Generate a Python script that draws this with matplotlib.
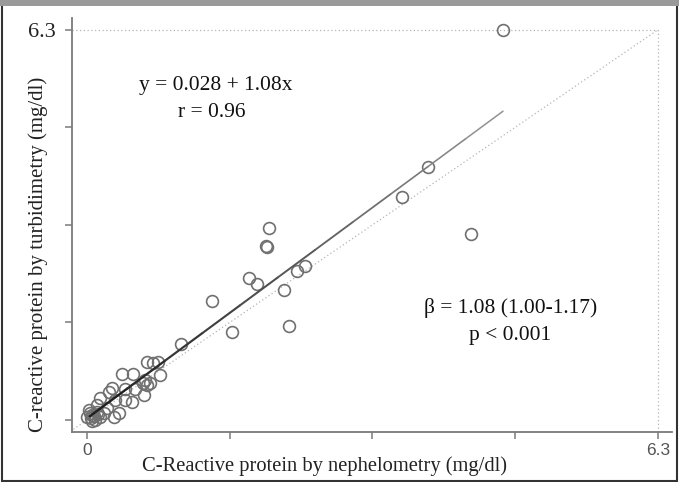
import matplotlib
matplotlib.use("Agg")
import matplotlib.pyplot as plt
import numpy as np
from matplotlib.patches import Rectangle

# Data (mg/dl)
nephelometry = [4.59, 3.76, 3.47, 4.24, 2.01, 1.99, 1.98, 1.79, 1.88, 2.32, 2.41, 2.17,
                2.23, 1.38, 1.60, 1.04, 0.66, 0.73, 0.78, 0.39, 0.51, 0.81, 0.64, 0.70,
                0.62, 0.66, 0.28, 0.24, 0.42, 0.53, 0.63, 0.14, 0.31, 0.42, 0.50, 0.11,
                0.22, 0.35, 0.30, 0.19, 0.02, 0.06, 0.14, 0.00, 0.09, 0.06, 0.03, 0.11,
                0.04, 0.08, 0.12]
turbidimetry = [6.30, 4.09, 3.60, 3.00, 3.10, 2.79, 2.81, 2.29, 2.20, 2.41, 2.49, 2.10,
                1.52, 1.92, 1.42, 1.23, 0.94, 0.92, 0.94, 0.74, 0.74, 0.73, 0.65, 0.60,
                0.60, 0.57, 0.52, 0.45, 0.50, 0.50, 0.40, 0.36, 0.32, 0.32, 0.29, 0.24,
                0.19, 0.11, 0.05, 0.11, 0.16, 0.08, 0.05, 0.05, 0.00, -0.02, 0.11, 0.13,
                0.03, 0.06, 0.10]
intercept = 0.028
slope = 1.08
fit_range = [0.03, 4.59]
axis_max = 6.3
x_tick_labels = ["0", "", "", "", "6.3"]
y_tick_labels = ["", "", "", "", "6.3"]

fig = plt.figure(figsize=(6.79, 4.82), dpi=100)
ax = fig.add_axes([0.106, 0.1037, 0.884, 0.859])
ax.set_xlim(-0.166, 6.457)
ax.set_ylim(-0.194, 6.49)

ticks = np.linspace(0, axis_max, 5)

# reference lines
ax.plot([-0.15, axis_max], [-0.15, axis_max], color="#b5b5b5", lw=0.9, ls=(0, (1, 2)))
ax.plot([-0.166, axis_max], [axis_max, axis_max], color="#b5b5b5", lw=0.9, ls=(0, (1, 2)))
ax.plot([axis_max, axis_max], [-0.194, axis_max], color="#b5b5b5", lw=0.9, ls=(0, (1, 2)))

# points
ax.plot(nephelometry, turbidimetry, ls="none", marker="o", ms=8.5,
        mfc="none", mec="#707070", mew=1.2)

# regression line with fading tone
xs = np.linspace(fit_range[0], fit_range[1], 12)
ys = intercept + slope * xs
for i in range(len(xs) - 1):
    t = i / (len(xs) - 2)
    g = 0.12 + 0.45 * t
    ax.plot(xs[i:i + 2], ys[i:i + 2], color=(g, g, g), lw=1.7 - 0.6 * t,
            solid_capstyle="round")

ax.spines["top"].set_visible(False)
ax.spines["right"].set_visible(False)
for s in ("left", "bottom"):
    ax.spines[s].set_color("#7a7a7a")
    ax.spines[s].set_linewidth(1.3)

ax.set_xticks(ticks)
ax.set_xticklabels(x_tick_labels, family="Liberation Sans", fontsize=12.5, color="#555555")
ax.set_yticks(ticks)
ax.set_yticklabels(y_tick_labels, family="Liberation Serif", fontsize=16, color="#222222")
ax.tick_params(axis="both", direction="out", length=5, width=1.1, color="#7a7a7a")
ax.tick_params(axis="x", pad=3)
ax.tick_params(axis="y", pad=6.5)

ax.set_xlabel("C-Reactive protein by nephelometry (mg/dl)", family="Liberation Serif",
              fontsize=14.8, color="#222222")
ax.set_ylabel("C-reactive protein by turbidimetry (mg/dl)", family="Liberation Serif",
              fontsize=15, color="#222222")
ax.yaxis.set_label_coords(-0.04, 0.43)
ax.xaxis.set_label_coords(0.42, -0.058)

tkw = dict(family="Liberation Serif", fontsize=15.5, color="#111111", ha="center", va="center")
ax.text(1.42, 5.40, "y = 0.028 + 1.08x", **tkw)
ax.text(1.38, 4.96, "r = 0.96", **tkw)
ax.text(4.67, 1.81, "β = 1.08 (1.00-1.17)", **tkw)
ax.text(4.67, 1.37, "p < 0.001", **tkw)

# outer frame of the image
fig.patches.append(Rectangle((0.003, 0.003), 0.994, 0.988, transform=fig.transFigure,
                             fill=False, edgecolor="#333333", lw=1.5))
fig.patches.append(Rectangle((0.0, 0.988), 1.0, 0.012, transform=fig.transFigure,
                             fill=True, facecolor="#9a9a9a", edgecolor="none"))

fig.savefig("out.png", dpi=100)
